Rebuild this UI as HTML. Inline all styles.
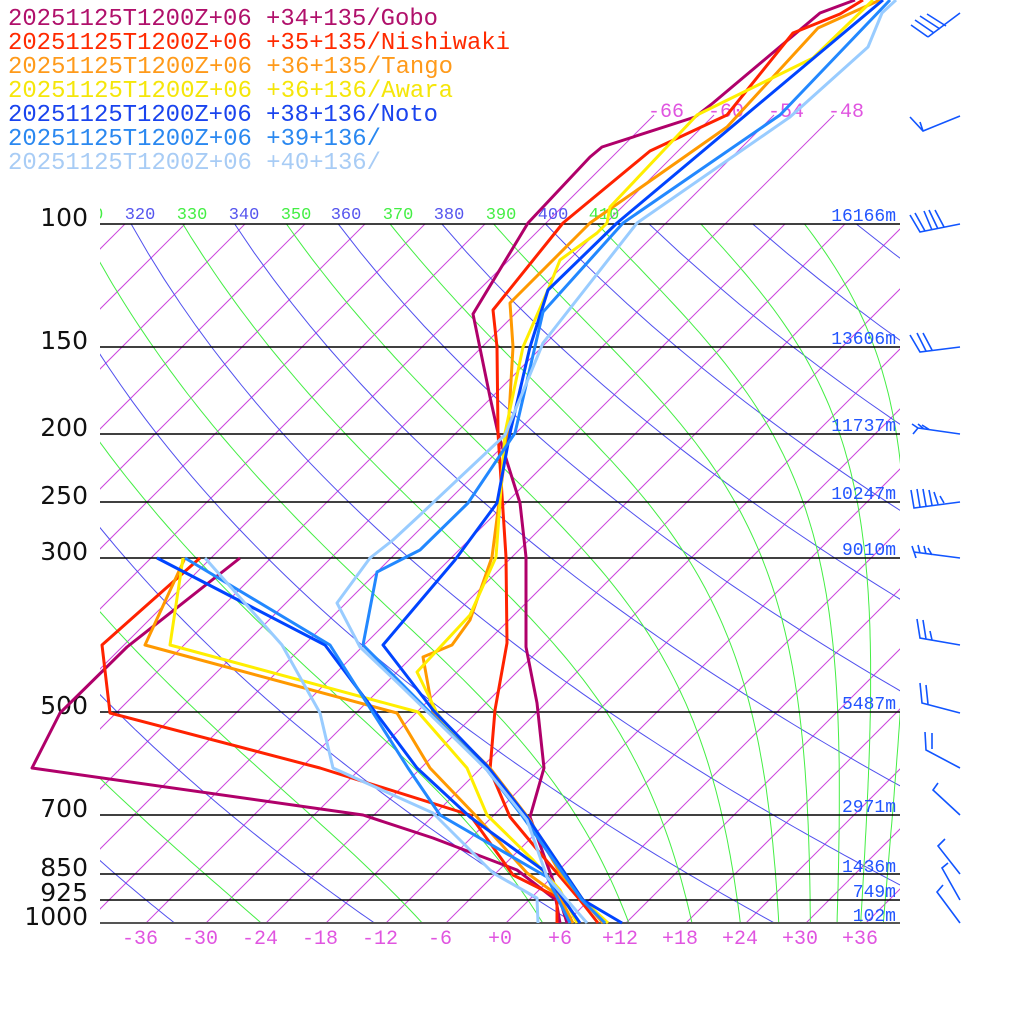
<!DOCTYPE html>
<html><head><meta charset="utf-8"><style>
html,body{margin:0;padding:0;background:#fff;width:1024px;height:1024px;overflow:hidden}
svg{display:block}
.lg{font-family:"Liberation Mono",monospace;font-size:24px}
.pl{font-family:"DejaVu Sans",sans-serif;font-size:25px;fill:#111}
.hl{font-family:"Liberation Mono",monospace;font-size:18px;fill:#2255ff}
.tl{font-family:"Liberation Mono",monospace;font-size:20px;fill:#e055e0}
.th{font-family:"Liberation Mono",monospace;font-size:17px}
</style></head><body>
<svg id="s" width="1024" height="1024" xmlns="http://www.w3.org/2000/svg">
<defs>
<clipPath id="c1"><rect x="100" y="224" width="800" height="699"/></clipPath>
<clipPath id="c2"><rect x="100" y="110" width="800" height="813"/></clipPath>
<clipPath id="c3"><rect x="100" y="190" width="800" height="40"/></clipPath>
</defs>
<g id="bg"></g>
<g id="hz" stroke="#000" stroke-width="1.5">
<line x1="100" y1="224" x2="900" y2="224"/><line x1="100" y1="347" x2="900" y2="347"/>
<line x1="100" y1="434" x2="900" y2="434"/><line x1="100" y1="502" x2="900" y2="502"/>
<line x1="100" y1="558" x2="900" y2="558"/><line x1="100" y1="712" x2="900" y2="712"/>
<line x1="100" y1="815" x2="900" y2="815"/><line x1="100" y1="874" x2="900" y2="874"/>
<line x1="100" y1="900" x2="900" y2="900"/><line x1="100" y1="923" x2="900" y2="923" stroke="#555" stroke-width="2"/>
</g>
<g class="pl" text-anchor="end">
<text x="88" y="226">100</text><text x="88" y="349">150</text><text x="88" y="436">200</text>
<text x="88" y="504">250</text><text x="88" y="560">300</text><text x="88" y="714">500</text>
<text x="88" y="817">700</text><text x="88" y="876">850</text><text x="88" y="901">925</text>
<text x="88" y="925">1000</text>
</g>
<g class="hl" text-anchor="end">
<text x="896" y="221">16166m</text><text x="896" y="344">13606m</text><text x="896" y="431">11737m</text>
<text x="896" y="499">10247m</text><text x="896" y="555">9010m</text><text x="896" y="709">5487m</text>
<text x="896" y="812">2971m</text><text x="896" y="872">1436m</text><text x="896" y="897">749m</text>
<text x="896" y="921">102m</text>
</g>
<g class="tl" text-anchor="middle" id="btl"></g>
<g class="tl">
<text x="648" y="117">-66</text><text x="708" y="117">-60</text><text x="768" y="117">-54</text><text x="828" y="117">-48</text>
</g>
<g class="th" clip-path="url(#c3)" text-anchor="middle">
<text x="88" y="219" fill="#44ee44">310</text><text x="140" y="219" fill="#5555ee">320</text>
<text x="192" y="219" fill="#44ee44">330</text><text x="244" y="219" fill="#5555ee">340</text>
<text x="296" y="219" fill="#44ee44">350</text><text x="346" y="219" fill="#5555ee">360</text>
<text x="398" y="219" fill="#44ee44">370</text><text x="449" y="219" fill="#5555ee">380</text>
<text x="501" y="219" fill="#44ee44">390</text><text x="553" y="219" fill="#5555ee">400</text>
<text x="604" y="219" fill="#44ee44">410</text>
</g>
<g id="ser" fill="none" stroke-width="3" stroke-linejoin="round"></g>
<g stroke="#1155ff" stroke-width="1.6" fill="none">
<path d="M960,13 L928,37 M928,37 L911,25 M934,33 L915,20 M940,29 L920,16 M946,26 L927,14"/>
<path d="M960,116 L923,131 L910,117 M923,131 L920,122"/>
<path d="M960,224 L920,232 L910,215 M925,231 L915,213 M932,230 L924,211 M938,229 L929,210 M944,227 L935,210"/>
<path d="M960,347 L920,352 L910,335 M926,351 L917,333 M932,350 L923,333"/>
<path d="M960,434 L918,428 L912,424 M918,428 L913,434 M924,429 L918,424 M930,430 L922,425"/>
<path d="M960,502 L914,508 L911,490 M920,507 L917,489 M926,506 L923,489 M932,505 L929,490 M938,504 L934,492 M944,503 L940,496"/>
<path d="M960,558 L914,552 L912,546 M914,552 L916,558 M920,553 L918,545 M926,554 L924,546 M932,555 L928,548"/>
<path d="M960,645 L920,638 L917,619 M926,639 L923,620 M932,640 L930,631"/>
<path d="M960,713 L922,703 L920,683 M928,704 L926,685"/>
<path d="M960,768 L926,750 L925,732 M932,749 L932,733"/>
<path d="M960,815 L933,790 L938,783"/>
<path d="M960,874 L938,846 L945,839"/>
<path d="M960,900 L942,868 L948,863"/>
<path d="M960,923 L937,892 L943,885"/>
</g>
<g class="lg">
<text x="8" y="25" fill="#b0106b" textLength="430" lengthAdjust="spacingAndGlyphs">20251125T1200Z+06 +34+135/Gobo</text>
<text x="8" y="49" fill="#ff2a00" textLength="502" lengthAdjust="spacingAndGlyphs">20251125T1200Z+06 +35+135/Nishiwaki</text>
<text x="8" y="73" fill="#ff9a1a" textLength="445" lengthAdjust="spacingAndGlyphs">20251125T1200Z+06 +36+135/Tango</text>
<text x="8" y="97" fill="#f5e60a" textLength="445" lengthAdjust="spacingAndGlyphs">20251125T1200Z+06 +36+136/Awara</text>
<text x="8" y="121" fill="#1a44ee" textLength="430" lengthAdjust="spacingAndGlyphs">20251125T1200Z+06 +38+136/Noto</text>
<text x="8" y="145" fill="#2a88f0" textLength="373" lengthAdjust="spacingAndGlyphs">20251125T1200Z+06 +39+136/</text>
<text x="8" y="169" fill="#a8ccf5" textLength="373" lengthAdjust="spacingAndGlyphs">20251125T1200Z+06 +40+136/</text>
</g>
</svg>
<script>
(function(){
var NS="http://www.w3.org/2000/svg";
function Y(p){return 923-303.6*Math.log(1000/p);}
function X(T,p){return 506+10*T+303.6*Math.log(1000/p);}
function path(d,st,w,clip,par){var e=document.createElementNS(NS,"path");e.setAttribute("d",d);e.setAttribute("stroke",st);e.setAttribute("stroke-width",w);e.setAttribute("fill","none");if(clip)e.setAttribute("clip-path",clip);par.appendChild(e);}
var bg=document.getElementById("bg");
for(var T=-150;T<=48;T+=6){
  path("M"+X(T,1000)+","+Y(1000)+" L"+X(T,100)+","+Y(100),"#cc44dd",1,"url(#c1)",bg);
}
[-66,-60,-54,-48].forEach(function(T){
  var x1=X(T,100),y1=224,x2=x1+(224-115),y2=115;
  path("M"+x1+","+y1+" L"+x2+","+y2,"#cc44dd",1,"url(#c2)",bg);
});
for(var th=160;th<=640;th+=20){
  var d="";for(var p=100;p<=1000.1;p+=10){var t=th*Math.pow(p/1000,0.2857)-273.15;d+=(d?" L":"M")+X(t,p).toFixed(1)+","+Y(p).toFixed(1);}
  path(d,"#5050ee",1,"url(#c1)",bg);
}
var Rd=287,cp=1004,Lv=2.5e6,eps=0.622;
function rs(T,p){var tc=T-273.15;var es=6.112*Math.exp(17.67*tc/(tc+243.5));return eps*es/(p-es);}
for(var th=170;th<=450;th+=20){
  var T=th*Math.pow(0.1,0.2857),lp=Math.log(100),d="",n=0;
  var dl=0.005;
  while(lp<=Math.log(1000)+1e-9){
    var p=Math.exp(lp);
    if(n%4==0)d+=(d?" L":"M")+X(T-273.15,p).toFixed(1)+","+Y(p).toFixed(1);
    var r=rs(T,p);
    var g=(Rd*T+Lv*r)/(cp+Lv*Lv*r*eps/(Rd*T*T));
    T+=g*dl;lp+=dl;n++;
  }
  path(d,"#44ee44",1,"url(#c1)",bg);
}
var btl=document.getElementById("btl");
for(var t=-36;t<=36;t+=6){var e=document.createElementNS(NS,"text");e.setAttribute("x",506+10*t-6);e.setAttribute("y",944);e.textContent=(t>=0?"+":"")+t;btl.appendChild(e);}
var ser=document.getElementById("ser");
var S=[
["#b0006a",[[855,0],[820,13],[713,103],[695,117],[602,147],[590,157],[528,223],[473,314],[490,397],[498,433],[520,503],[526,557],[526,647],[537,703],[544,768],[530,817],[560,900],[567,923]],
 [[240,558],[127,647],[60,713],[32,768],[363,815],[433,838],[517,870],[556,900],[560,923]]],
["#ff2200",[[863,0],[840,14],[793,33],[727,115],[650,151],[563,223],[493,310],[497,347],[498,433],[506,557],[507,643],[495,710],[490,770],[510,817],[540,853],[580,900],[598,923]],
 [[200,558],[102,645],[110,713],[320,768],[470,815],[513,875],[557,897],[557,923]]],
["#ff9900",[[880,0],[818,28],[727,127],[680,160],[590,223],[510,303],[513,347],[508,433],[492,557],[470,620],[452,645],[423,657],[433,713],[490,768],[530,820],[560,873],[603,923]],
 [[185,558],[145,645],[397,713],[430,768],[477,817],[527,873],[560,897],[573,923]]],
["#ffee00",[[873,0],[813,58],[697,115],[610,207],[607,223],[597,233],[560,260],[548,290],[523,347],[505,433],[496,557],[470,615],[417,672],[437,713],[450,730],[487,767],[527,817],[583,900],[608,923]],
 [[183,558],[170,645],[418,712],[467,768],[487,815],[533,860],[560,890],[577,923]]],
["#0044ff",[[883,0],[617,223],[548,290],[530,347],[510,433],[497,503],[455,560],[383,645],[433,710],[488,767],[527,817],[583,900],[622,923]],
 [[157,558],[325,645],[417,768],[470,817],[543,870],[580,923]]],
["#2288ff",[[890,0],[780,115],[623,223],[543,312],[515,433],[468,503],[420,550],[377,572],[363,645],[400,682],[487,770],[523,817],[582,900],[605,923]],
 [[185,558],[330,645],[408,768],[440,815],[547,877],[570,923]]],
["#99ccff",[[896,0],[882,13],[868,47],[790,117],[637,223],[543,343],[505,435],[420,515],[393,540],[370,558],[337,603],[360,647],[400,685],[487,770],[527,820],[547,877],[587,923]],
 [[205,558],[282,645],[320,713],[333,768],[433,813],[493,873],[537,898],[538,923]]]
];
S.forEach(function(s){
  [s[1],s[2]].forEach(function(pts){
    var d=pts.map(function(q,i){return (i?"L":"M")+q[0]+","+q[1];}).join(" ");
    path(d,s[0],3,null,ser);
  });
});
})();
</script>
</body></html>
